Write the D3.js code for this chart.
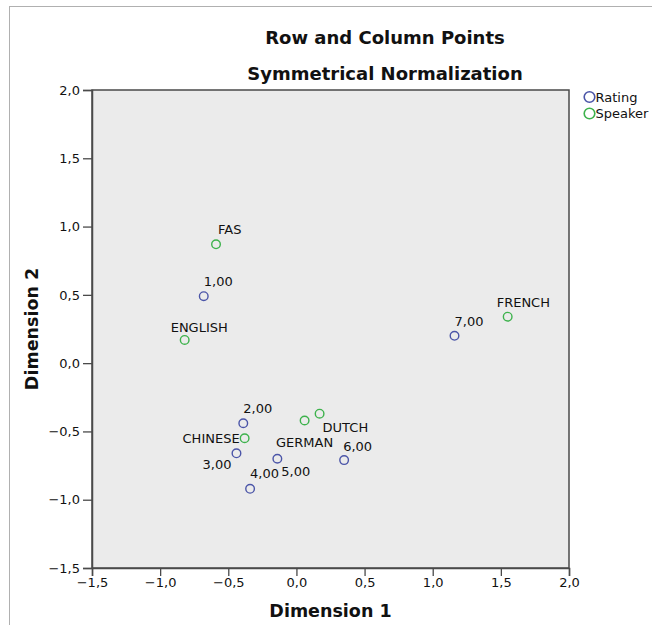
<!DOCTYPE html>
<html>
<head>
<meta charset="utf-8">
<script src="https://cdn.jsdelivr.net/npm/d3@7"></script>
<style>
  html, body { margin: 0; padding: 0; background: #fff; }
  svg { display: block; }
</style>
</head>
<body>
<svg id="chart" width="652" height="625"></svg>
<script>
// ---- data ----
const ratingLabels = ["1,00", "2,00", "3,00", "4,00", "5,00", "6,00", "7,00"];
const ratingDim1 = [-0.68, -0.39, -0.44, -0.34, -0.14, 0.35, 1.16];
const ratingDim2 = [0.49, -0.44, -0.66, -0.92, -0.70, -0.71, 0.20];

const speakerLabels = ["FAS", "ENGLISH", "CHINESE", "GERMAN", "DUTCH", "FRENCH"];
const speakerDim1 = [-0.59, -0.82, -0.38, 0.06, 0.17, 1.55];
const speakerDim2 = [0.87, 0.17, -0.55, -0.42, -0.37, 0.34];

const tickValues = [-1.5, -1.0, -0.5, 0.0, 0.5, 1.0, 1.5, 2.0];
const seriesNames = ["Rating", "Speaker"];

// label placement (layout only)
const ratingLabelPlace = [
  ["start", 0, -10], ["start", 0, -10], ["end", -5, 16], ["start", 0, -11],
  ["start", 4, 17], ["start", -1, -9], ["start", 0, -10]
];
const speakerLabelPlace = [
  ["start", 2, -10], ["start", -14, -8], ["end", -5, 5], ["middle", 0, 26],
  ["start", 3, 18], ["start", -11, -10]
];

// ---- layout ----
const pLeft = 92, pRight = 569, pTop = 90, pBottom = 568;
const colors = { Rating: "#4b55a8", Speaker: "#3db24c" };
const svg = d3.select("#chart");

// outer frame (only left/top visible)
svg.append("rect").attr("x", 9.5).attr("y", 6.5).attr("width", 700).attr("height", 700)
  .attr("fill", "none").attr("stroke", "#b0b0b0").attr("stroke-width", 1);

const x = d3.scaleLinear().domain([-1.5, 2.0]).range([pLeft, pRight]);
const y = d3.scaleLinear().domain([-1.5, 2.0]).range([pBottom, pTop]);

const fmt = v => d3.format(".1f")(v).replace(".", ",");

// plot background
svg.append("rect").attr("x", pLeft).attr("y", pTop)
  .attr("width", pRight - pLeft).attr("height", pBottom - pTop)
  .attr("fill", "#ebebeb").attr("stroke", "#4a4a4a").attr("stroke-width", 1.5);

const xAxis = svg.append("g").attr("transform", `translate(0,${pBottom})`)
  .call(d3.axisBottom(x).tickValues(tickValues).tickFormat(fmt).tickSize(8).tickPadding(2));
const yAxis = svg.append("g").attr("transform", `translate(${pLeft},0)`)
  .call(d3.axisLeft(y).tickValues(tickValues).tickFormat(fmt).tickSize(9).tickPadding(3));
[xAxis, yAxis].forEach(g => {
  g.select(".domain").attr("stroke", "#4a4a4a").attr("stroke-width", 1.5);
  g.selectAll(".tick line").attr("stroke", "#4a4a4a").attr("stroke-width", 1.3);
  g.selectAll(".tick text").attr("fill", "#111").style("font-family", "DejaVu Sans").style("font-size", "13px");
});

// titles
svg.append("text").attr("x", 385).attr("y", 44).attr("text-anchor", "middle")
  .style("font-family", "DejaVu Sans").style("font-weight", "bold").style("font-size", "18px")
  .attr("fill", "#111").text("Row and Column Points");
svg.append("text").attr("x", 385).attr("y", 80).attr("text-anchor", "middle")
  .style("font-family", "DejaVu Sans").style("font-weight", "bold").style("font-size", "18px")
  .attr("fill", "#111").text("Symmetrical Normalization");

// axis titles
svg.append("text").attr("x", (pLeft + pRight) / 2).attr("y", 617).attr("text-anchor", "middle")
  .style("font-family", "DejaVu Sans").style("font-weight", "bold").style("font-size", "17.5px")
  .attr("fill", "#111").text("Dimension 1");
svg.append("text").attr("transform", `translate(38,${(pTop + pBottom) / 2}) rotate(-90)`)
  .attr("text-anchor", "middle")
  .style("font-family", "DejaVu Sans").style("font-weight", "bold").style("font-size", "17.5px")
  .attr("fill", "#111").text("Dimension 2");

// points
const ratingData = ratingLabels.map((l, i) => ({ label: l, d1: ratingDim1[i], d2: ratingDim2[i], place: ratingLabelPlace[i], s: "Rating" }));
const speakerData = speakerLabels.map((l, i) => ({ label: l, d1: speakerDim1[i], d2: speakerDim2[i], place: speakerLabelPlace[i], s: "Speaker" }));
const all = ratingData.concat(speakerData);

const pts = svg.append("g");
pts.selectAll("circle").data(all).join("circle")
  .attr("cx", d => x(d.d1)).attr("cy", d => y(d.d2)).attr("r", 4.3)
  .attr("fill", "none").attr("stroke", d => colors[d.s]).attr("stroke-width", 1.4);
pts.selectAll("text").data(all).join("text")
  .attr("x", d => x(d.d1) + d.place[1]).attr("y", d => y(d.d2) + d.place[2])
  .attr("text-anchor", d => d.place[0])
  .style("font-family", "DejaVu Sans").style("font-size", "13px").attr("fill", "#111")
  .text(d => d.label);

// legend
const lg = svg.append("g");
seriesNames.forEach((n, i) => {
  lg.append("circle").attr("cx", 589.5).attr("cy", 97 + i * 16.5).attr("r", 5.3)
    .attr("fill", "none").attr("stroke", colors[n]).attr("stroke-width", 1.6);
  lg.append("text").attr("x", 595.5).attr("y", 101.5 + i * 16.5)
    .style("font-family", "DejaVu Sans").style("font-size", "13px").attr("fill", "#111").text(n);
});
</script>
</body>
</html>
